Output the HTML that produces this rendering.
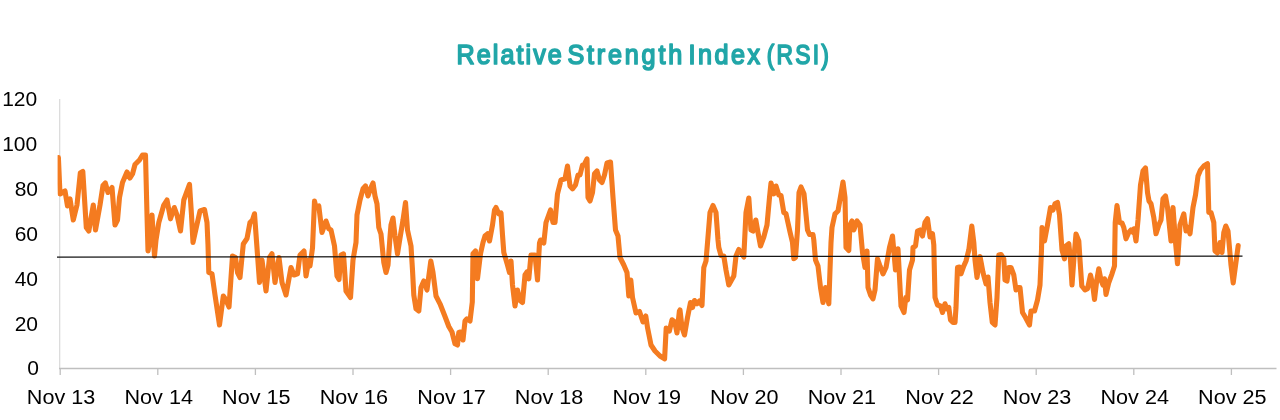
<!DOCTYPE html>
<html lang="en"><head><meta charset="utf-8"><title>Relative Strength Index (RSI)</title>
<style>
html,body{margin:0;padding:0;background:#fff;}
body{width:1280px;height:420px;overflow:hidden;font-family:"Liberation Sans",sans-serif;}
svg{display:block}
.ttl{font-family:"Liberation Sans",sans-serif;font-weight:400;font-size:26.5px;fill:#21a6a8;stroke:#21a6a8;stroke-width:1.6px;stroke-linejoin:round;}
.xl text{font-size:21px;fill:#000;text-anchor:middle;}
.yl text{font-size:21px;fill:#000;text-anchor:end;}
</style></head><body>
<svg width="1280" height="420" viewBox="0 0 1280 420">
<defs><clipPath id="pc"><rect x="57.6" y="90" width="1200" height="285"/></clipPath></defs>
<rect width="1280" height="420" fill="#fff"/>
<g class="ttl"><text transform="translate(456.6,64.3) scale(0.95,1.07)" letter-spacing="2.15">Relative</text><text transform="translate(567.5,64.3) scale(0.95,1.07)" letter-spacing="2.94">Strength</text><text transform="translate(688.4,64.3) scale(0.95,1.07)" letter-spacing="2.66">Index</text><text transform="translate(766.8,64.3) scale(0.86,1.07)" letter-spacing="2.56">(RSI)</text></g>
<line x1="59.7" y1="99" x2="59.7" y2="368.5" stroke="#d9d9d9" stroke-width="1.2"/>
<line x1="59" y1="368.5" x2="1276.5" y2="368.5" stroke="#bfbfbf" stroke-width="1.3"/>
<g stroke="#bfbfbf" stroke-width="1.3"><line x1="60.2" y1="368.5" x2="60.2" y2="375" /><line x1="157.8" y1="368.5" x2="157.8" y2="375" /><line x1="255.4" y1="368.5" x2="255.4" y2="375" /><line x1="353.0" y1="368.5" x2="353.0" y2="375" /><line x1="450.6" y1="368.5" x2="450.6" y2="375" /><line x1="548.2" y1="368.5" x2="548.2" y2="375" /><line x1="645.8" y1="368.5" x2="645.8" y2="375" /><line x1="743.4" y1="368.5" x2="743.4" y2="375" /><line x1="841.0" y1="368.5" x2="841.0" y2="375" /><line x1="938.6" y1="368.5" x2="938.6" y2="375" /><line x1="1036.2" y1="368.5" x2="1036.2" y2="375" /><line x1="1133.8" y1="368.5" x2="1133.8" y2="375" /><line x1="1231.4" y1="368.5" x2="1231.4" y2="375" /></g>
<polyline fill="none" stroke="#f47b20" stroke-width="5.1" stroke-linejoin="round" stroke-linecap="round" points="58.4,157.5 60.0,194.0 65.0,191.0 67.5,206.0 70.0,199.0 73.3,220.0 77.0,205.0 80.3,173.0 82.8,171.5 86.3,227.5 88.8,231.0 93.3,205.0 95.5,230.0 100.0,205.0 103.0,185.5 105.3,183.0 108.0,192.5 112.0,187.5 115.0,225.0 117.5,220.0 119.5,197.5 122.5,182.5 127.0,172.0 130.0,178.0 132.5,174.0 135.0,164.5 139.5,160.0 142.5,155.0 145.5,155.0 147.0,215.0 148.0,251.0 150.0,240.0 152.0,215.0 154.5,256.0 156.0,240.0 158.8,222.5 163.8,205.0 167.0,200.0 170.5,218.8 174.3,207.5 177.0,215.0 180.5,231.0 183.8,200.0 189.5,184.5 191.5,215.0 193.0,242.5 196.3,227.5 200.0,211.0 204.5,209.5 207.0,222.5 208.0,245.0 208.8,272.5 212.0,273.8 215.0,295.0 219.5,325.0 223.3,296.0 226.0,300.0 229.0,307.0 232.5,256.0 235.5,257.5 237.5,272.5 240.0,277.5 243.3,244.0 247.0,238.5 250.0,222.5 252.5,220.0 254.5,213.8 257.0,248.0 259.5,282.5 262.0,260.0 266.0,291.0 269.5,257.5 272.0,253.8 275.0,282.5 279.0,257.5 282.0,282.5 286.0,295.0 291.0,267.5 294.0,275.0 297.5,273.8 300.0,255.0 304.0,251.0 306.0,276.0 308.8,260.0 310.0,266.0 312.5,248.0 314.5,201.0 316.0,207.5 318.8,206.0 322.0,232.5 326.0,221.0 328.8,228.8 331.0,230.0 334.5,246.0 337.0,276.0 339.0,279.5 341.0,255.0 343.5,253.8 346.0,291.0 350.5,297.5 353.0,260.0 356.0,242.5 357.0,215.0 360.0,200.0 363.0,188.8 365.5,186.0 368.0,196.0 371.0,187.5 373.0,183.0 375.0,196.0 377.0,203.8 378.8,227.5 381.0,234.0 383.8,262.5 386.0,272.5 388.0,265.0 390.0,237.0 391.0,225.0 393.0,218.0 395.0,236.0 397.5,253.8 399.5,241.0 403.0,220.0 405.5,202.5 407.5,230.0 411.0,246.0 412.5,270.0 413.8,295.0 416.0,308.8 418.8,311.0 421.0,287.5 423.8,281.0 427.0,290.0 430.8,261.0 433.0,272.5 436.0,296.0 440.0,303.8 445.0,316.5 448.8,326.5 452.0,332.0 455.0,343.8 457.5,345.0 458.8,332.5 460.5,332.0 463.0,340.0 465.0,321.0 467.0,318.8 470.0,321.0 472.3,302.0 473.0,253.8 475.5,251.0 477.5,278.8 480.5,253.8 483.0,242.5 485.0,236.0 487.5,233.8 489.5,241.0 492.5,225.0 494.5,210.0 496.0,207.5 498.8,213.8 501.0,213.0 502.5,235.0 503.8,252.5 507.5,265.0 509.5,272.5 511.0,261.0 512.5,285.0 515.0,306.0 517.5,290.0 520.0,300.5 522.5,302.5 525.0,275.0 527.0,272.0 528.8,278.8 531.0,255.0 535.0,255.0 537.5,280.0 539.5,243.0 540.5,240.0 543.8,243.0 546.0,222.5 550.5,210.0 553.0,222.5 555.0,222.5 557.5,193.8 561.0,180.0 565.0,178.8 567.5,166.0 570.0,186.0 572.5,188.8 575.5,185.0 578.0,175.0 580.0,175.0 582.5,165.0 584.0,165.0 587.0,158.8 588.0,197.5 590.0,201.0 592.5,192.5 594.5,173.8 597.0,171.0 599.5,180.0 602.0,182.5 604.5,175.0 607.0,163.0 610.5,162.0 613.0,197.5 615.5,230.0 618.0,236.0 620.0,257.5 623.8,265.0 627.0,272.5 628.8,296.0 630.8,280.0 632.5,297.5 636.0,313.0 639.5,311.5 643.0,322.0 645.8,316.0 647.5,327.5 651.0,345.0 655.0,351.0 660.0,356.0 664.6,358.8 666.2,328.0 669.4,331.0 672.0,319.8 674.8,322.0 677.0,333.0 679.4,311.0 680.0,310.0 682.0,327.5 684.5,335.0 687.5,317.5 690.5,302.5 692.5,307.5 694.5,300.5 697.0,303.8 699.5,301.0 702.0,305.5 703.8,267.5 706.0,261.0 707.5,243.0 710.0,212.5 713.0,205.5 716.0,212.5 718.0,240.0 718.8,247.5 721.0,255.5 723.8,256.0 726.0,270.0 728.8,285.0 731.0,281.0 733.8,276.0 736.0,256.0 738.8,249.5 741.0,252.5 743.8,257.0 746.0,212.5 748.8,198.0 751.0,230.0 753.0,231.0 755.8,220.0 758.0,232.5 760.5,246.0 763.8,237.0 767.0,225.0 769.5,197.5 771.0,183.0 773.8,193.8 776.0,186.0 778.8,195.0 781.0,195.5 783.8,212.5 786.0,213.8 790.0,232.0 792.5,242.5 793.8,258.8 795.5,257.5 797.5,230.0 799.0,192.5 801.0,187.0 804.0,193.8 807.5,230.0 809.5,234.5 813.0,234.5 813.8,240.0 815.5,260.0 818.0,266.0 820.5,287.5 823.0,302.5 825.5,287.5 828.8,303.8 830.0,270.0 831.0,242.5 832.0,227.5 835.0,213.8 838.0,211.0 841.0,193.8 843.0,182.0 845.0,197.5 846.0,247.5 848.8,250.5 850.0,225.0 852.0,221.0 853.8,230.0 857.0,221.0 860.0,225.0 862.5,252.5 865.0,267.5 867.0,251.0 868.0,287.5 870.5,295.0 873.0,298.8 875.0,290.0 877.5,258.8 880.0,266.0 883.0,273.8 886.0,267.5 889.5,247.5 892.5,236.0 895.5,270.0 898.0,248.8 901.0,306.0 904.0,312.5 905.8,297.5 907.5,300.0 909.5,270.0 912.5,260.0 913.0,247.5 915.5,246.0 917.5,231.0 920.0,230.0 922.5,236.0 925.0,222.5 927.5,218.8 930.0,237.0 932.5,233.8 933.8,245.0 935.0,297.5 937.5,305.0 940.5,306.0 942.5,312.5 945.0,303.8 946.8,308.8 948.8,307.5 950.5,320.0 953.0,322.5 955.0,322.5 956.0,307.5 957.5,267.5 959.5,267.0 961.0,273.8 963.8,266.0 966.0,261.0 968.8,250.0 971.8,226.0 973.8,242.5 975.0,260.0 977.0,277.5 980.0,256.5 983.0,272.5 986.0,283.8 988.0,277.0 990.0,302.5 992.3,322.5 995.0,325.0 997.0,297.5 998.8,255.0 1001.0,254.5 1003.8,258.8 1005.0,280.0 1007.0,281.0 1008.8,267.5 1011.0,267.5 1013.8,275.0 1016.0,290.0 1018.0,287.5 1020.0,287.5 1022.5,312.5 1025.5,317.5 1029.5,325.0 1031.0,311.0 1034.5,311.0 1037.5,300.0 1040.0,285.0 1041.5,250.0 1042.0,227.5 1044.5,241.0 1047.5,225.0 1050.5,207.5 1053.0,210.0 1055.0,203.8 1057.5,202.5 1059.5,215.0 1062.0,250.0 1064.5,258.8 1066.0,246.0 1068.8,243.8 1070.5,260.0 1072.0,285.0 1073.8,260.0 1076.0,234.0 1078.8,241.0 1080.0,260.0 1081.8,286.0 1085.0,290.0 1087.5,288.8 1090.5,275.0 1092.5,283.8 1094.5,299.5 1096.8,280.0 1098.8,268.8 1101.0,280.0 1103.0,285.0 1104.5,278.8 1106.0,294.5 1108.8,282.5 1112.0,273.8 1114.5,266.0 1115.2,222.5 1117.0,205.5 1119.5,222.5 1122.0,223.0 1123.8,227.5 1126.0,238.8 1128.8,232.5 1131.0,230.0 1133.0,232.5 1134.0,228.8 1136.0,241.0 1138.0,220.0 1140.5,185.0 1143.0,171.0 1145.5,168.0 1147.5,192.5 1149.0,201.0 1151.0,203.8 1153.8,217.5 1156.0,233.8 1158.8,225.0 1161.0,220.0 1163.0,198.8 1165.5,196.0 1167.5,207.5 1171.0,241.0 1173.0,207.5 1175.5,242.0 1177.5,263.8 1180.0,225.0 1183.8,213.8 1186.0,231.0 1188.0,227.5 1190.0,233.8 1193.0,207.5 1195.5,195.0 1198.0,176.0 1200.5,170.0 1203.8,166.0 1207.5,163.8 1208.8,212.5 1211.0,212.5 1213.8,222.5 1215.0,251.0 1217.5,253.0 1220.0,242.5 1222.0,252.5 1223.8,232.5 1225.8,226.0 1228.0,231.0 1231.0,265.0 1233.2,283.0 1238.2,245.5" clip-path="url(#pc)"/>
<line x1="57" y1="257.15" x2="1242.5" y2="256.05" stroke="#151515" stroke-width="1.25"/>
<g class="yl"><text x="38.9" y="375.4">0</text><text x="38.0" y="330.5">20</text><text x="38.0" y="285.6">40</text><text x="38.0" y="240.6">60</text><text x="38.0" y="195.7">80</text><text x="37.2" y="150.8">100</text><text x="37.2" y="105.9">120</text></g>
<g class="xl"><text transform="translate(61.1,403.6) scale(1.03,1)">Nov 13</text><text transform="translate(158.7,403.6) scale(1.03,1)">Nov 14</text><text transform="translate(256.3,403.6) scale(1.03,1)">Nov 15</text><text transform="translate(353.9,403.6) scale(1.03,1)">Nov 16</text><text transform="translate(451.5,403.6) scale(1.03,1)">Nov 17</text><text transform="translate(549.1,403.6) scale(1.03,1)">Nov 18</text><text transform="translate(646.7,403.6) scale(1.03,1)">Nov 19</text><text transform="translate(744.3,403.6) scale(1.03,1)">Nov 20</text><text transform="translate(841.9,403.6) scale(1.03,1)">Nov 21</text><text transform="translate(939.5,403.6) scale(1.03,1)">Nov 22</text><text transform="translate(1037.1,403.6) scale(1.03,1)">Nov 23</text><text transform="translate(1134.7,403.6) scale(1.03,1)">Nov 24</text><text transform="translate(1232.3,403.6) scale(1.03,1)">Nov 25</text></g>
</svg>
</body></html>
